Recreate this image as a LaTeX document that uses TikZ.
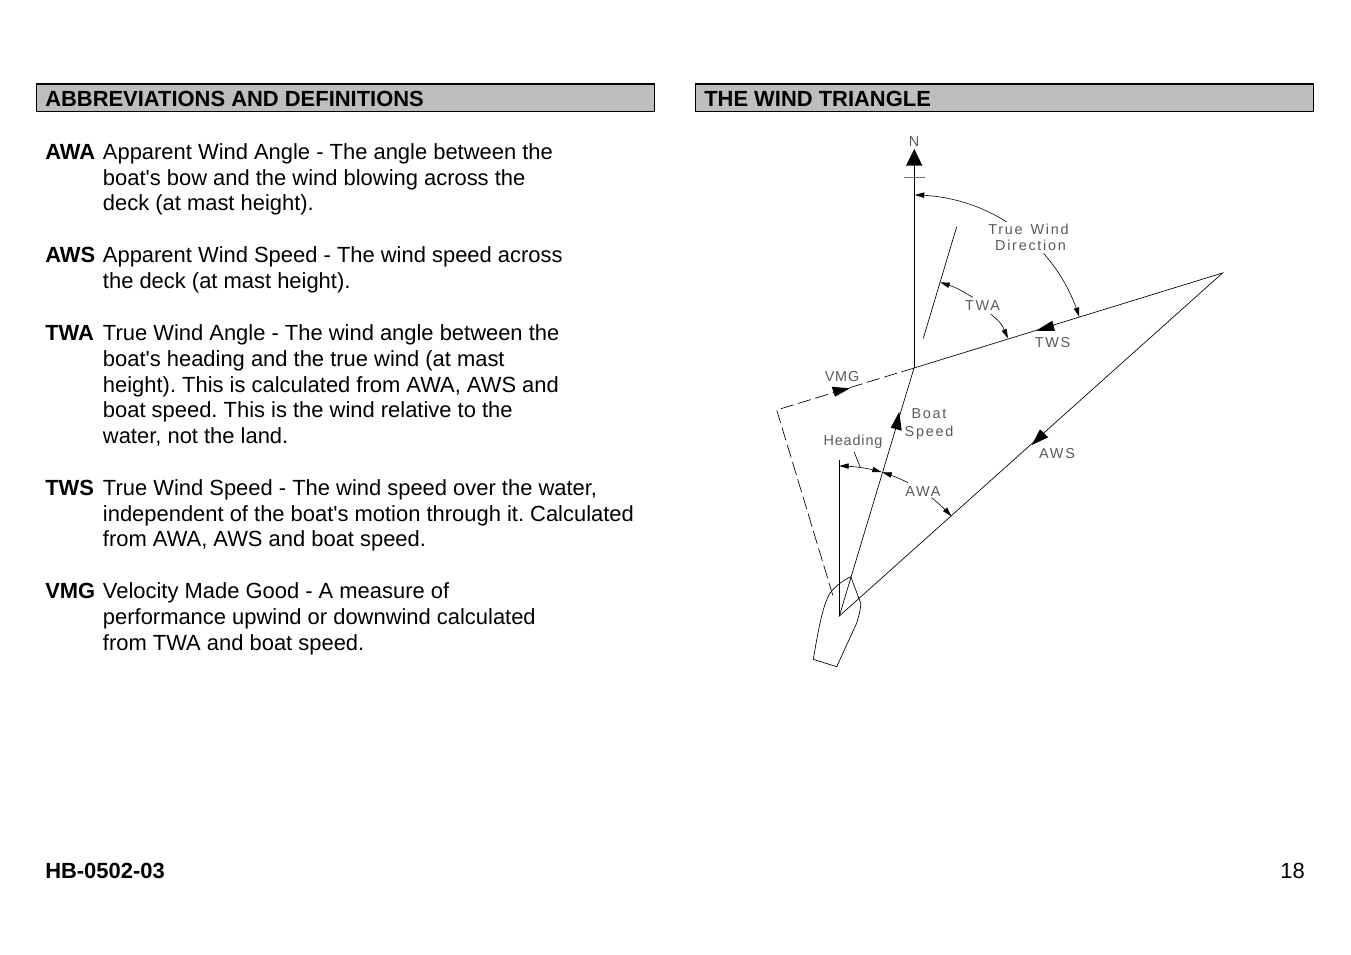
\documentclass[tikz,border=0pt]{standalone}
\usepackage{fontspec}
\setmainfont{Liberation Sans}
\usetikzlibrary{arrows.meta}
\newfontfamily\cadA[LetterSpace=12]{Liberation Sans}
\newfontfamily\cadB[LetterSpace=6]{Liberation Sans}
\definecolor{barfill}{HTML}{BEBEBE}
\definecolor{cadtext}{HTML}{5A5A5A}
\tikzset{
  x=0.75pt,y=-0.75pt,
  body/.style={anchor=base west,inner sep=0pt,font=\fontsize{16.45}{19}\selectfont\frenchspacing,text=black},
  bold/.style={body,font=\fontsize{16.45}{19}\selectfont\frenchspacing\bfseries},
  bar/.style={draw=black,line width=0.75pt,fill=barfill},
  barTop/.style={draw=black,line width=1.3pt},
  thin line/.style={draw=black,line width=0.5pt},
  mainline/.style={draw=black,line width=0.7pt},
  dash line/.style={draw=black,line width=0.5pt,dash pattern=on 10pt off 3.5pt},
  head/.style={fill=black,draw=none},
  dim/.style={draw=black,line width=0.45pt,-{Triangle[length=7pt,width=4pt]}},
  dimboth/.style={draw=black,line width=0.45pt,{Triangle[length=7pt,width=4pt]}-{Triangle[length=7pt,width=4pt]}},
  cadwide/.style={inner sep=0pt,text=cadtext,font=\fontsize{10.8}{12}\cadA},
  cadnarrow/.style={inner sep=0pt,text=cadtext,font=\fontsize{10.8}{12}\cadB},
}
\newcommand{\darc}[6]{\draw[#1] plot[domain=#5:#6,samples=24,smooth] ({#2+#4*cos(\x)},{#3+#4*sin(\x)});}
\begin{document}
\begin{tikzpicture}
\useasboundingbox[fill=white] (0,0) rectangle (1351,954);
% header bars
\node[bar,anchor=north west,minimum width=463.5pt,minimum height=20.25pt,inner sep=0pt] (barL) at (36.3,84) {};
\node[bar,anchor=north west,minimum width=463.5pt,minimum height=20.25pt,inner sep=0pt] (barR) at (695.3,84) {};
\draw[barTop] (barL.north west) -- (barL.north east);
\draw[barTop] (barR.north west) -- (barR.north east);
\node[bold] (hL) at (45,106) {ABBREVIATIONS AND DEFINITIONS};
\node[bold] (hR) at (704,106) {THE WIND TRIANGLE};
% definitions
\node[bold] (t1) at (45,159) {AWA};
\node[body] (a1) at (102.7,159) {Apparent Wind Angle - The angle between the};
\node[body] (a2) at (102.7,185) {boat\textquotesingle s bow and the wind blowing across the};
\node[body] (a3) at (102.7,210) {deck (at mast height).};
\node[bold] (t2) at (45,262) {AWS};
\node[body] (b1) at (102.7,262) {Apparent Wind Speed - The wind speed across};
\node[body] (b2) at (102.7,288) {the deck (at mast height).};
\node[bold] (t3) at (45,340) {TWA};
\node[body] (c1) at (102.7,340) {True Wind Angle - The wind angle between the};
\node[body] (c2) at (102.7,366) {boat\textquotesingle s heading and the true wind (at mast};
\node[body] (c3) at (102.7,392) {height). This is calculated from AWA, AWS and};
\node[body] (c4) at (102.7,417) {boat speed. This is the wind relative to the};
\node[body] (c5) at (102.7,443) {water, not the land.};
\node[bold] (t4) at (45,495) {TWS};
\node[body] (d1) at (102.7,495) {True Wind Speed - The wind speed over the water,};
\node[body] (d2) at (102.7,521) {independent of the boat\textquotesingle s motion through it. Calculated};
\node[body] (d3) at (102.7,546) {from AWA, AWS and boat speed.};
\node[bold] (t5) at (45,598) {VMG};
\node[body] (e1) at (102.7,598) {Velocity Made Good - A measure of};
\node[body] (e2) at (102.7,624) {performance upwind or downwind calculated};
\node[body] (e3) at (102.7,650) {from TWA and boat speed.};
\node[bold] (foot) at (45,878) {HB-0502-03};
\node[body,anchor=base east] (page) at (1305,878) {18};
% key points
\coordinate (J) at (914,368);
\coordinate (Apex) at (1222.5,273);
\coordinate (Boat) at (839.3,616);
\coordinate (NTip) at (914,165);
\coordinate (HeadTop) at (839.3,460);
\coordinate (Corner) at (776.7,410);
\coordinate (DashEnd) at (833,596);
% main lines
\draw[mainline] (J) -- (NTip);
\draw[draw=black!55,line width=0.6pt] (904,177) -- (925,177);
\fill[head] (914.3,149) -- (906,165.5) -- (922.3,165.5) -- cycle;
\draw[thin line] (J) -- (Apex) -- (Boat) -- (J);
\draw[thin line] (Boat) -- (HeadTop);
\draw[dash line] (J) -- (Corner) -- (DashEnd);
\draw[thin line] (923.3,338.3) -- (956.7,226.7);
% boat outline
\draw[thin line] (850.7,576.7) .. controls (842,581) and (836,586) .. (831.7,591)
  .. controls (824,600) and (819,625) .. (813.3,659.3) -- (836.7,666.7)
  -- (856.7,623) .. controls (860,612) and (861,606) .. (860.7,603) -- (850.7,576.7);
% arrowheads on lines
\fill[head] (1036,330.7) -- (1052.3,320.7) -- (1055,331) -- cycle;
\fill[head] (850,388.3) -- (831.7,386.7) -- (835,396.7) -- cycle;
\fill[head] (899.3,411.7) -- (890.7,427.7) -- (901.7,430.7) -- cycle;
\fill[head] (1031.7,445) -- (1040,429.3) -- (1048.3,437.3) -- cycle;
% dimension arcs
\darc{dim}{914}{368}{173}{-57.6}{-89.7}
\darc{dim}{914}{368}{173}{-41.5}{-17.2}
\draw[dim] (972.7,297.3) .. controls (957,288) .. (940.3,282.3);
\draw[dim] (990.7,314) .. controls (1001,323) .. (1008,338.3);
\darc{dimboth}{839.3}{616}{150}{-90}{-73.6}
\darc{dim}{839.3}{616}{150}{-62.8}{-73.3}
\darc{dim}{839.3}{616}{150}{-52.1}{-41.7}
\draw[draw=black,line width=0.45pt] (854,451.7) -- (860,466.7);
% CAD labels
\node[cadnarrow] (lN) at (914,142) {N};
\node[cadwide] (lTW) at (1028.5,229) {True\hspace{6pt}Wind};
\node[cadwide] (lD) at (1030.5,245.5) {Direction};
\node[cadwide] (lTWA) at (982.5,306) {TWA};
\node[cadwide] (lTWS) at (1052.5,342.5) {TWS};
\node[cadnarrow] (lVMG) at (842,376.5) {VMG};
\node[cadwide] (lBoat) at (929,414) {Boat};
\node[cadwide] (lSpeed) at (929,432.5) {Speed};
\node[cadnarrow] (lHead) at (853,441.5) {Heading};
\node[cadwide] (lAWA) at (923,492) {AWA};
\node[cadwide] (lAWS) at (1057,453.5) {AWS};
\end{tikzpicture}
\end{document}
